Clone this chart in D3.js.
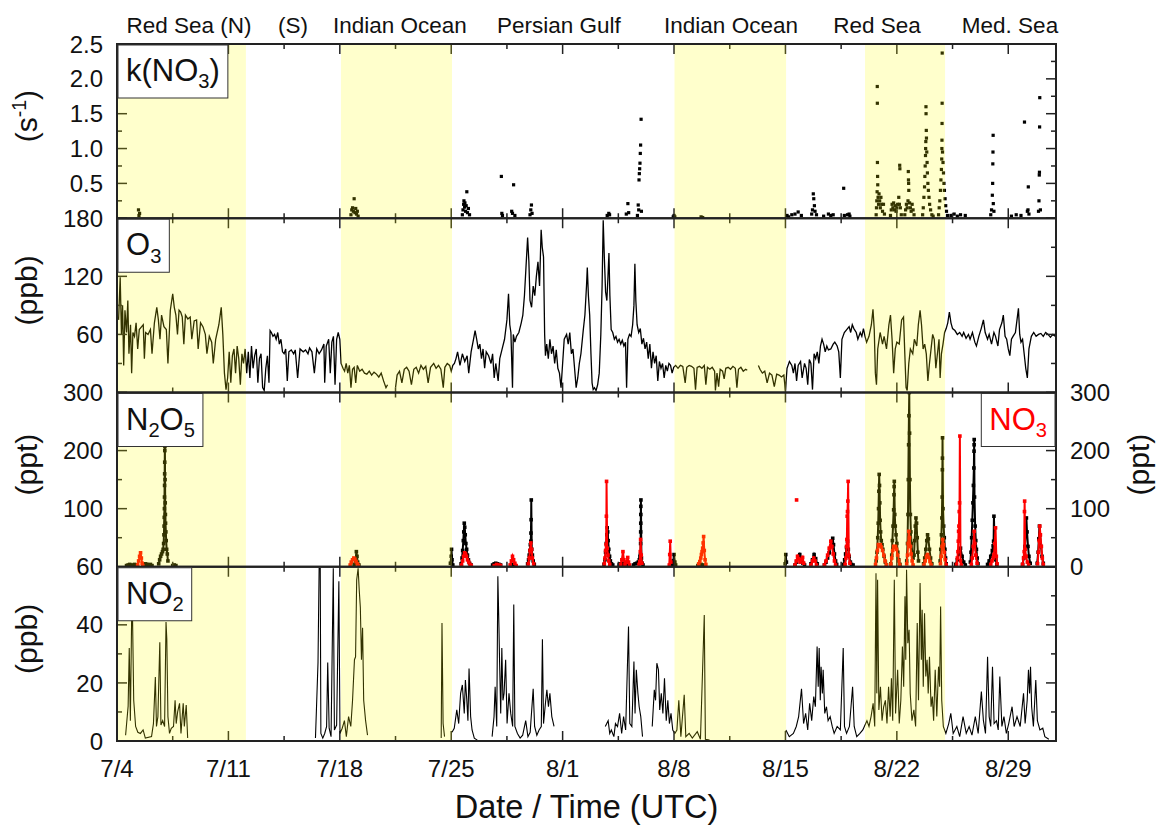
<!DOCTYPE html>
<html>
<head>
<meta charset="utf-8">
<script src="https://cdn.jsdelivr.net/npm/d3@7"></script>
<style>
  body { margin: 0; background: #fff; }
  svg { font-family: "Liberation Sans", Arial, sans-serif; }
</style>
</head>
<body>
<script>

// days since 2017-07-04 00:00 UTC
var shadeStart = [0, 14.07, 35.03, 47.0];
var shadeEnd = [8.1, 21.05, 42.04, 52.03];
var regionNames = ["Red Sea (N)", "(S)", "Indian Ocean", "Persian Gulf", "Indian Ocean", "Red Sea", "Med. Sea"];
var regionDay = [4.52, 11.06, 17.78, 27.77, 38.58, 47.75, 56.11];
var dateTickDays = [0, 7, 14, 21, 28, 35, 42, 49, 56];

var kTicks = [0.5, 1.0, 1.5, 2.0, 2.5];
var o3Ticks = [60, 120, 180];
var n2o5Ticks = [100, 200, 300];
var no3Ticks = [0, 100, 200, 300];
var no2Ticks = [0, 20, 40, 60];

// k(NO3), s-1
var kno3 = [
  [1.35,0.12],[1.38,0.04],[1.42,0.07],
  [14.7,0.05],[14.75,0.12],[14.8,0.15],[14.85,0.1],[14.9,0.28],[14.95,0.08],[15.0,0.14],[15.05,0.06],[15.1,0.1],[15.15,0.03],
  [21.7,0.05],[21.74,0.12],[21.78,0.2],[21.8,0.25],[21.84,0.16],[21.86,0.22],[21.9,0.1],[21.94,0.18],[21.98,0.38],[22.02,0.08],[22.08,0.14],[22.15,0.05],
  [24.15,0.6],[24.18,0.07],[24.22,0.04],
  [24.8,0.1],[24.85,0.07],[24.92,0.48],[25.0,0.04],
  [25.95,0.05],[26.0,0.12],[26.04,0.19],[26.08,0.07],
  [30.8,0.04],[30.9,0.07],[30.95,0.05],
  [32.0,0.06],[32.1,0.21],[32.15,0.08],
  [32.7,0.04],[32.75,0.19],[32.78,0.12],[32.8,0.55],[32.82,0.64],[32.84,0.71],[32.86,0.79],[32.88,0.93],[32.9,1.05],[32.93,1.42],[32.95,0.1],
  [34.95,0.02],[35.0,0.04],[35.05,0.02],[36.7,0.02],[36.8,0.01],
  [42.1,0.04],[42.2,0.02],[42.4,0.05],[42.6,0.06],[42.8,0.09],[43.0,0.04],
  [43.65,0.06],[43.7,0.12],[43.75,0.35],[43.78,0.28],[43.82,0.18],[43.86,0.1],[43.95,0.05],
  [44.4,0.03],[44.7,0.06],[44.85,0.04],[45.0,0.05],
  [45.66,0.43],[45.7,0.04],[45.9,0.05],[46.0,0.06],[46.05,0.03],
  [47.7,0.05],[47.72,0.15],[47.74,0.25],[47.76,0.38],[47.77,1.89],[47.775,1.65],[47.78,0.8],[47.79,0.6],[47.8,0.48],[47.82,0.3],[47.85,0.2],[47.88,0.35],[47.92,0.25],[47.96,0.15],[48.0,0.3],[48.05,0.2],[48.1,0.1],[48.16,0.2],[48.22,0.06],
  [48.6,0.04],[48.65,0.12],[48.7,0.2],[48.75,0.15],[48.8,0.22],[48.85,0.12],[48.9,0.18],[48.95,0.1],[49.0,0.15],[49.05,0.2],[49.12,0.3],[49.16,0.2],[49.18,0.76],[49.19,0.71],[49.22,0.15],[49.28,0.05],
  [49.5,0.05],[49.55,0.12],[49.6,0.2],[49.65,0.15],[49.7,0.25],[49.72,0.67],[49.73,0.55],[49.74,0.5],[49.75,0.4],[49.8,0.22],[49.85,0.15],[49.9,0.1],[49.96,0.2],[50.02,0.12],[50.08,0.05],
  [50.62,0.05],[50.66,0.15],[50.7,0.3],[50.74,0.45],[50.76,0.6],[50.78,0.75],[50.8,0.9],[50.81,1.0],[50.82,1.1],[50.83,1.6],[50.835,1.5],[50.85,1.26],[50.86,1.15],[50.88,0.95],[50.9,0.8],[50.92,0.65],[50.95,0.5],[50.98,0.4],[51.02,0.3],[51.06,0.2],[51.12,0.12],[51.2,0.05],[51.28,0.03],
  [51.62,0.05],[51.66,0.15],[51.7,0.25],[51.74,0.4],[51.77,0.55],[51.8,0.7],[51.82,0.85],[51.83,1.0],[51.835,1.12],[51.84,1.36],[51.845,1.65],[51.85,2.37],[51.87,0.95],[51.9,0.8],[51.93,0.65],[51.96,0.5],[51.99,0.4],[52.03,0.28],[52.07,0.18],[52.12,0.1],[52.18,0.04],
  [52.4,0.04],[52.6,0.06],[52.8,0.03],[53.0,0.05],[53.3,0.04],
  [54.9,0.05],[54.95,0.12],[55.0,0.33],[55.02,0.5],[55.03,0.78],[55.04,0.95],[55.05,1.19],[55.06,0.21],[55.1,0.1],
  [56.2,0.03],[56.5,0.05],[56.8,0.04],[57.02,1.38],
  [57.2,0.1],[57.24,0.12],[57.26,0.45],[57.3,0.06],
  [57.9,0.1],[57.93,0.25],[57.95,0.62],[57.96,0.66],[57.97,1.31],[57.98,1.73],[58.02,0.12]
];

// O3, ppb (null = no data)
var o3 = [
  [0.10,75],[0.20,119],[0.28,60],[0.35,90],[0.42,28],[0.50,85],[0.60,62],[0.68,95],[0.75,40],[0.85,70],[0.92,20],
  [1.00,62],[1.10,58],[1.20,72],[1.30,45],[1.40,65],[1.55,68],[1.65,70],[1.72,35],[1.80,62],[1.95,60],
  [2.10,65],[2.20,40],[2.35,72],[2.50,88],[2.60,75],[2.70,55],[2.80,80],[2.95,68],[3.10,65],[3.20,30],
  [3.35,85],[3.50,102],[3.60,88],[3.70,80],[3.80,60],[3.90,85],[4.00,83],[4.10,78],[4.20,50],[4.30,80],
  [4.45,76],[4.60,78],[4.70,55],[4.85,74],[5.00,75],[5.10,45],[5.25,72],[5.40,68],[5.55,60],[5.65,40],
  [5.80,58],[5.95,52],[6.05,30],[6.20,55],[6.40,70],[6.55,88],[6.65,60],[6.75,20],[6.85,3],[6.95,15],
  [7.05,42],[7.15,10],[7.25,38],[7.35,45],[7.45,20],[7.55,48],[7.65,35],[7.75,8],[7.85,40],[7.95,30],
  [8.05,45],[8.15,20],[8.25,42],[8.35,15],[8.45,48],[8.55,25],[8.65,38],[8.75,45],[8.85,10],[8.95,35],
  [9.05,40],[9.15,5],[9.25,2],[9.35,25],[9.45,38],[9.55,10],[9.62,64],[9.70,62],[9.80,58],[9.90,60],
  [10.00,55],[10.10,62],[10.20,50],[10.30,55],[10.40,42],[10.50,40],[10.60,45],[10.70,12],[10.80,42],[10.95,44],
  [11.10,40],[11.20,44],[11.35,15],[11.50,45],[11.70,42],[11.85,44],[12.00,40],[12.10,46],[12.25,42],[12.40,20],
  [12.55,45],[12.70,40],[12.85,44],[13.00,50],[13.05,10],[13.15,48],[13.30,55],[13.40,20],[13.50,52],[13.60,58],
  [13.70,8],[13.80,55],[13.90,62],[14.00,55],[14.08,30],[14.20,25],[14.30,22],[14.40,30],[14.50,20],[14.60,28],
  [14.70,5],[14.80,24],[14.90,26],[15.00,10],[15.10,28],[15.25,22],[15.40,24],[15.55,20],[15.70,19],[15.85,22],
  [16.00,18],[16.15,21],[16.30,19],[16.45,16],[16.60,20],[16.75,12],[16.90,5],[17.00,8],[17.25,null],
  [17.50,5],[17.60,18],[17.75,22],[17.90,10],[18.05,24],[18.20,26],[18.35,22],[18.50,8],[18.65,24],[18.80,26],
  [18.95,20],[19.10,28],[19.25,24],[19.40,27],[19.55,10],[19.70,26],[19.90,30],[20.05,25],[20.20,28],[20.35,24],
  [20.50,5],[20.60,26],[20.75,30],[20.90,28],[21.00,22],[21.10,28],[21.20,30],[21.30,35],[21.40,42],[21.55,28],
  [21.70,40],[21.85,32],[22.00,38],[22.10,20],[22.25,42],[22.40,55],[22.50,64],[22.60,55],[22.70,45],[22.80,50],
  [22.90,35],[23.00,45],[23.10,25],[23.20,42],[23.35,38],[23.50,30],[23.60,40],[23.70,15],[23.80,30],[23.95,12],
  [24.05,35],[24.20,45],[24.35,55],[24.50,75],[24.60,102],[24.68,70],[24.75,62],[24.85,5],[24.90,60],[25.00,52],
  [25.10,58],[25.25,62],[25.40,72],[25.50,80],[25.60,100],[25.70,130],[25.80,160],[25.88,135],[25.95,95],[26.05,88],
  [26.15,110],[26.25,100],[26.35,120],[26.45,135],[26.55,110],[26.65,168],[26.72,150],[26.80,140],[26.87,60],[26.92,38],
  [27.00,50],[27.10,35],[27.20,55],[27.30,40],[27.40,48],[27.50,30],[27.60,44],[27.70,25],[27.80,20],[27.90,5],
  [28.00,30],[28.10,55],[28.25,60],[28.35,50],[28.45,62],[28.55,40],[28.65,45],[28.75,25],[28.85,5],[28.95,15],
  [29.05,30],[29.15,40],[29.30,65],[29.40,80],[29.50,110],[29.55,129],[29.62,100],[29.70,80],[29.78,40],[29.85,10],
  [29.92,3],[30.00,5],[30.10,2],[30.20,8],[30.30,20],[30.40,60],[30.48,110],[30.55,178],[30.62,140],[30.70,104],
  [30.78,95],[30.85,120],[30.91,144],[30.97,100],[31.05,65],[31.15,62],[31.25,55],[31.35,58],[31.45,52],[31.55,55],
  [31.65,50],[31.75,54],[31.85,48],[31.95,52],[32.02,5],[32.10,55],[32.20,60],[32.30,58],[32.40,70],[32.48,90],
  [32.54,133],[32.60,95],[32.68,70],[32.78,62],[32.88,66],[32.98,50],[33.08,56],[33.18,45],[33.28,52],[33.38,35],
  [33.48,50],[33.58,25],[33.68,42],[33.78,30],[33.88,38],[33.98,12],[34.08,32],[34.18,25],[34.28,30],[34.38,15],
  [34.48,28],[34.58,22],[34.68,30],[34.78,28],[34.88,20],[34.98,26],[35.10,28],[35.25,25],[35.40,28],[35.55,27],
  [35.70,10],[35.80,26],[35.95,28],[36.10,27],[36.25,25],[36.35,3],[36.45,26],[36.60,27],[36.75,25],[36.90,28],
  [37.00,8],[37.10,26],[37.25,24],[37.40,26],[37.55,22],[37.60,2],[37.70,20],[37.80,6],[37.90,24],[38.05,22],
  [38.15,14],[38.25,25],[38.40,26],[38.55,24],[38.70,27],[38.85,25],[38.95,5],[39.05,24],[39.20,26],[39.35,22],
  [39.50,24],[39.60,23],[39.95,null],
  [40.30,28],[40.40,24],[40.55,20],[40.70,22],[40.85,10],[41.00,20],[41.15,18],[41.30,6],[41.45,19],[41.60,18],
  [41.75,16],[41.90,18],[42.00,2],[42.10,25],[42.25,32],[42.40,28],[42.50,20],[42.60,30],[42.70,12],[42.80,28],
  [42.95,32],[43.05,15],[43.20,30],[43.30,25],[43.40,8],[43.50,34],[43.60,30],[43.70,3],[43.80,40],[43.90,35],
  [44.00,42],[44.10,30],[44.20,48],[44.30,55],[44.40,50],[44.50,42],[44.60,48],[44.70,44],[44.85,45],[45.00,50],
  [45.10,52],[45.25,48],[45.35,42],[45.45,15],[45.55,55],[45.70,62],[45.85,65],[46.00,68],[46.10,62],[46.20,70],
  [46.30,66],[46.45,62],[46.55,55],[46.70,62],[46.80,58],[46.90,66],[47.00,58],[47.10,52],[47.25,58],[47.40,70],
  [47.50,86],[47.58,65],[47.65,20],[47.72,8],[47.80,45],[47.95,62],[48.10,50],[48.20,58],[48.35,45],[48.50,70],
  [48.60,80],[48.70,55],[48.80,20],[48.90,45],[49.00,52],[49.15,50],[49.30,75],[49.42,78],[49.50,40],[49.58,5],
  [49.65,2],[49.75,30],[49.85,45],[50.00,40],[50.10,55],[50.25,48],[50.35,70],[50.46,85],[50.55,70],[50.65,45],
  [50.75,50],[50.85,40],[50.95,12],[51.05,30],[51.15,45],[51.25,60],[51.35,55],[51.45,25],[51.55,40],[51.65,55],
  [51.72,15],[51.80,40],[51.90,50],[52.00,62],[52.10,66],[52.20,72],[52.30,83],[52.40,72],[52.50,66],[52.65,64],
  [52.80,60],[52.95,62],[53.10,58],[53.20,62],[53.35,56],[53.50,60],[53.60,55],[53.75,62],[53.90,52],[54.00,48],
  [54.15,58],[54.30,66],[54.44,75],[54.55,62],[54.70,55],[54.80,60],[54.95,50],[55.10,62],[55.20,58],[55.35,48],
  [55.45,65],[55.60,72],[55.69,80],[55.80,58],[55.90,55],[56.00,45],[56.10,38],[56.20,55],[56.30,58],[56.45,62],
  [56.55,75],[56.64,87],[56.72,60],[56.80,52],[56.90,55],[57.00,40],[57.10,25],[57.20,15],[57.30,45],[57.45,58],
  [57.60,62],[57.75,58],[57.90,60],[58.05,61],[58.20,58],[58.35,62],[58.50,60],[58.65,57],[58.80,60],[58.95,58]
];

// N2O5, ppt (one list per night)
var n2o5 = [
  [[0.6,2],[0.7,3],[0.8,4],[0.9,3],[1.0,2],[1.1,4],[1.2,3]],
  [[1.7,3],[1.8,5],[1.9,4],[2.0,3],[2.1,4],[2.2,2]],
  [[2.62,5],[2.68,12],[2.74,18],[2.8,22],[2.86,26],[2.9,30],[2.93,40],[2.95,55],[2.96,70],[2.97,85],[2.98,100],[2.985,120],[2.99,140],[2.995,160],[3.0,180],[3.005,200],[3.01,207],[3.02,150],[3.03,110],[3.04,90],[3.05,75],[3.07,60],[3.09,45],[3.12,30],[3.16,22],[3.2,10]],
  [[3.5,2],[3.6,3],[3.7,2]],
  [[14.9,4],[15.0,12],[15.04,26],[15.08,18],[15.12,8],[15.2,3]],
  [[20.95,6],[21.0,18],[21.02,30],[21.05,12],[21.1,3]],
  [[21.62,5],[21.68,15],[21.72,28],[21.76,45],[21.79,60],[21.82,75],[21.85,68],[21.88,55],[21.92,40],[21.97,30],[22.02,20],[22.08,12],[22.15,6],[22.25,3]],
  [[23.6,3],[23.7,5],[23.8,6],[23.9,5],[24.0,4],[24.1,3]],
  [[24.75,2],[24.85,4],[24.95,3]],
  [[25.8,5],[25.86,12],[25.9,20],[25.94,28],[25.97,38],[26.0,44],[26.01,58],[26.02,81],[26.03,115],[26.06,30],[26.1,20],[26.15,10],[26.22,4]],
  [[30.6,4],[30.66,12],[30.7,25],[30.74,40],[30.78,55],[30.8,67],[30.83,60],[30.86,45],[30.9,30],[30.95,18],[31.0,10],[31.07,5],[31.15,3]],
  [[31.55,3],[31.65,5],[31.75,4],[31.85,6],[31.95,3],[32.05,4]],
  [[32.45,3],[32.55,5],[32.65,6],[32.75,8],[32.82,12],[32.86,18],[32.89,21],[32.9,40],[32.905,60],[32.91,75],[32.912,90],[32.915,104],[32.92,115],[32.95,15],[33.0,6],[33.05,3]],
  [[34.9,4],[34.95,10],[35.0,21],[35.05,8],[35.1,3]],
  [[36.5,2],[36.6,3],[36.7,4],[36.8,3],[36.9,2]],
  [[41.98,5],[42.02,21],[42.06,8]],
  [[42.6,3],[42.7,8],[42.8,15],[42.9,21],[43.0,12],[43.1,6],[43.2,3]],
  [[43.6,5],[43.7,12],[43.8,21],[43.9,14],[44.0,5]],
  [[44.45,3],[44.55,8],[44.65,15],[44.75,24],[44.85,35],[44.92,44],[44.97,49],[45.02,38],[45.08,22],[45.15,10],[45.22,4]],
  [[45.65,4],[45.72,12],[45.78,22],[45.84,33],[45.9,44],[45.95,30],[46.0,18],[46.08,8],[46.15,4],[46.25,3]],
  [[47.7,10],[47.75,25],[47.8,50],[47.83,75],[47.85,100],[47.87,130],[47.89,159],[47.91,140],[47.93,110],[47.95,80],[47.98,60],[48.02,45],[48.07,38],[48.12,30],[48.2,18],[48.28,8],[48.35,3]],
  [[48.62,5],[48.68,20],[48.72,45],[48.76,70],[48.8,98],[48.82,124],[48.83,138],[48.84,147],[48.87,90],[48.9,70],[48.95,55],[49.0,40],[49.06,25],[49.12,12],[49.2,4]],
  [[49.62,10],[49.67,40],[49.7,90],[49.72,150],[49.74,210],[49.76,260],[49.78,300],[49.8,230],[49.82,150],[49.85,90],[49.88,60],[49.92,40],[49.97,25],[50.02,15]],
  [[50.08,20],[50.12,45],[50.16,70],[50.2,84],[50.24,75],[50.28,50],[50.32,25],[50.36,10]],
  [[50.68,5],[50.75,15],[50.82,30],[50.88,45],[50.93,55],[50.98,48],[51.05,30],[51.12,15],[51.2,5]],
  [[51.72,10],[51.76,30],[51.8,55],[51.83,84],[51.85,120],[51.86,167],[51.865,187],[51.87,222],[51.9,100],[51.94,70],[51.98,50],[52.02,30],[52.06,15],[52.1,5]],
  [[52.7,4],[52.8,12],[52.9,22],[53.0,32],[53.1,18],[53.2,8],[53.3,3]],
  [[53.62,8],[53.66,25],[53.7,50],[53.74,80],[53.78,110],[53.81,140],[53.84,170],[53.85,199],[53.855,210],[53.86,219],[53.88,120],[53.92,70],[53.96,45],[54.0,30],[54.05,15],[54.1,5]],
  [[54.7,4],[54.8,10],[54.9,18],[55.0,28],[55.05,36],[55.08,44],[55.1,87],[55.15,30],[55.22,12],[55.28,4]],
  [[56.9,4],[56.98,15],[57.05,35],[57.1,60],[57.14,84],[57.18,60],[57.24,35],[57.3,18],[57.38,6]],
  [[57.82,6],[57.88,25],[57.92,48],[57.96,70],[58.0,55],[58.06,35],[58.12,18],[58.2,6]]
];

// NO3, ppt (one list per night)
var no3 = [
  [[1.3,3],[1.36,10],[1.42,18],[1.48,24],[1.53,15],[1.58,6],[1.62,2]],
  [[14.65,3],[14.72,8],[14.8,12],[14.88,15],[14.95,13],[15.02,9],[15.1,5],[15.16,2]],
  [[21.65,3],[21.72,10],[21.78,18],[21.84,24],[21.9,22],[21.96,18],[22.02,12],[22.1,8],[22.18,4],[22.26,2]],
  [[23.7,2],[23.85,4],[24.0,3],[24.1,2]],
  [[24.7,3],[24.78,10],[24.85,18],[24.92,12],[25.0,6],[25.08,2]],
  [[25.84,5],[25.9,15],[25.95,28],[26.0,41],[26.05,30],[26.1,15],[26.18,5]],
  [[30.62,5],[30.66,15],[30.7,28],[30.73,38],[30.75,87],[30.76,147],[30.8,32],[30.85,20],[30.9,10],[30.96,4]],
  [[31.65,4],[31.72,12],[31.79,26],[31.85,12],[31.92,4],[32.0,8],[32.09,16],[32.14,8],[32.2,3]],
  [[32.8,4],[32.85,9],[32.88,26],[32.9,47],[32.94,20],[32.98,6]],
  [[34.7,3],[34.73,21],[34.76,44],[34.8,8]],
  [[36.55,5],[36.62,9],[36.68,15],[36.72,21],[36.76,26],[36.8,32],[36.83,41],[36.86,52],[36.9,28],[36.95,12],[37.0,4]],
  [[42.6,3],[42.68,10],[42.76,18],[42.84,14],[42.92,8],[43.0,12],[43.08,16],[43.15,6]],
  [[42.7,115]],
  [[43.6,3],[43.7,10],[43.78,15],[43.86,10],[43.95,3]],
  [[44.45,3],[44.55,10],[44.65,20],[44.75,32],[44.85,44],[44.92,35],[45.0,22],[45.08,10],[45.15,3]],
  [[45.75,4],[45.8,15],[45.84,35],[45.86,47],[45.88,87],[45.9,95],[45.92,113],[45.94,147],[45.98,20],[46.05,6]],
  [[47.66,4],[47.72,15],[47.78,28],[47.84,38],[47.9,36],[47.96,38],[48.02,34],[48.1,28],[48.18,20],[48.26,10],[48.34,3]],
  [[48.62,4],[48.68,15],[48.74,28],[48.8,35],[48.86,33],[48.92,35],[48.98,30],[49.05,20],[49.12,10],[49.18,3]],
  [[49.62,5],[49.67,20],[49.71,40],[49.75,61],[49.8,50],[49.85,35],[49.9,22],[49.96,10],[50.02,3]],
  [[50.7,3],[50.78,10],[50.86,18],[50.93,21],[51.0,16],[51.08,9],[51.15,3]],
  [[51.74,5],[51.79,18],[51.84,35],[51.88,47],[51.93,38],[51.98,25],[52.04,12],[52.1,3]],
  [[52.75,4],[52.8,15],[52.84,26],[52.86,44],[52.88,61],[52.9,70],[52.92,95],[52.94,110],[52.96,225],[53.0,10],[53.05,3]],
  [[53.68,4],[53.74,15],[53.8,35],[53.86,61],[53.9,40],[53.96,20],[54.04,6]],
  [[54.9,4],[54.98,10],[55.05,15],[55.1,21],[55.15,40],[55.2,67],[55.25,18],[55.3,5]],
  [[56.9,4],[56.96,15],[57.0,26],[57.02,95],[57.03,113],[57.06,30],[57.12,18],[57.2,8],[57.28,3]],
  [[57.84,5],[57.9,25],[57.94,45],[57.98,70],[58.02,55],[58.08,35],[58.14,15],[58.2,4]]
];

// NO2, ppb (null = no data)
var no2 = [
  [0.54,2],[0.70,12],[0.77,32],[0.84,7],[0.93,47],[0.98,41],[1.05,14],[1.17,5],[1.31,3],[1.47,2.6],[1.64,3.8],[1.78,1],
  [2.17,1.5],[2.29,6],[2.41,22],[2.48,5],[2.57,8.4],[2.69,34],[2.76,5.5],[2.87,7],[2.99,5],[3.08,41],[3.13,35],[3.20,8.4],
  [3.30,2.6],[3.41,4.4],[3.55,5],[3.65,14],[3.72,6],[3.81,10],[3.93,13],[4.02,2.6],[4.16,13],[4.23,5],[4.35,12.4],[4.44,1],
  [8,null],
  [12.47,1],[12.53,10.7],[12.63,27],[12.70,59.5],[12.77,59.5],[12.81,2.6],[12.93,1],[13.05,2.6],[13.17,5],[13.24,27],
  [13.33,4.4],[13.45,1.5],[13.59,59.5],[13.66,3.8],[13.80,5.5],[13.94,55],[14.01,2.6],[14.15,4.4],[14.29,7],[14.41,1.5],
  [14.55,8.4],[14.69,5],[14.80,14],[14.92,28],[14.99,29],[15.06,55.5],[15.15,59.5],[15.22,52],[15.29,46],[15.36,28],
  [15.43,39],[15.50,14],[15.62,7],[15.74,2],
  [18,null],
  [20.37,1],[20.42,40.6],[20.49,6],[20.58,1.5],
  [20.8,null],
  [21.05,3],[21.19,4.4],[21.35,10.7],[21.47,6],[21.59,16.4],[21.70,19.3],[21.82,9.5],[21.89,21],[21.98,14],[22.05,7],
  [22.12,25],[22.22,8.4],[22.31,3.8],[22.45,1],[22.64,0.3],
  [23.1,null],
  [23.57,1.5],[23.69,8.4],[23.76,18.7],[23.86,5],[23.93,56.7],[24.0,39],[24.04,27],[24.11,9.5],[24.18,32],[24.25,14],
  [24.32,16.4],[24.42,28],[24.51,6],[24.63,16.4],[24.74,9.5],[24.86,5],[24.93,47],[25.0,5],[25.16,2.6],[25.33,1],
  [25.49,2],[25.68,7],[25.82,1.5],[25.96,3],[26.15,18],[26.24,5],[26.38,2],[26.52,3.8],[26.66,5],[26.73,35],
  [26.80,6],[26.92,13],[27.01,17.6],[27.11,11.8],[27.20,16.4],[27.32,8.4],[27.46,5],
  [27.7,null],
  [30.68,5],[30.86,7],[30.96,2.6],[31.06,3.8],[31.22,1.5],[31.32,6],[31.45,5],[31.58,9.5],[31.71,2.6],[31.83,8.4],
  [31.96,3.8],[32.14,39.4],[32.22,6],[32.35,5],[32.48,27.4],[32.55,9.5],[32.63,24.5],[32.73,16.4],[32.81,11.8],[32.91,8.4],
  [33.02,1.5],
  [33.3,null],
  [33.63,5],[33.76,17.6],[33.84,14],[33.92,26.8],[34.02,24.5],[34.10,10.7],[34.20,16.4],[34.30,9.5],[34.40,21.6],[34.51,7],
  [34.61,14],[34.71,6],[34.81,9.5],[34.92,3.8],[35.05,2.6],[35.18,3.8],[35.30,14],[35.43,1.5],[35.64,15.9],[35.74,1.5],
  [35.95,2.6],[36.15,1],[36.46,3.2],[36.66,0.6],[36.90,43.4],[36.97,0.6],[37.23,0.3],
  [38,null],
  [42.03,3.8],[42.24,1.5],[42.50,2.6],[42.68,5],[42.83,8.4],[43.01,18],[43.14,6],[43.27,9.5],[43.40,3.8],[43.52,13],
  [43.65,7],[43.78,15.3],[43.88,11.8],[43.99,32.5],[44.06,18.7],[44.12,32],[44.19,14],[44.24,25.6],[44.32,16.4],[44.37,24.5],
  [44.47,9.5],[44.58,11.8],[44.68,7],[44.81,8.4],[44.94,5],[45.06,2.6],[45.25,5],[45.45,3.8],[45.63,32],[45.71,5],
  [45.84,2.6],[46.02,5],[46.22,18.7],[46.32,5],[46.48,1.5],[46.68,2.6],[46.86,3.8],[47.12,7],[47.25,5],[47.38,8.4],
  [47.51,13],[47.61,5],[47.69,57.8],[47.74,16.4],[47.79,55.5],[47.87,10.7],[47.97,18.7],[48.07,7],[48.17,11.8],[48.28,14],
  [48.38,6],[48.48,18.7],[48.58,8.4],[48.66,21.6],[48.74,7],[48.84,55.5],[48.92,9.5],[49.05,24.5],[49.15,6],[49.25,14],
  [49.35,32.5],[49.43,18.7],[49.51,49.8],[49.56,28],[49.61,59],[49.69,33.7],[49.77,38.3],[49.84,16.4],[49.95,7],[50.07,10.7],
  [50.18,5],[50.28,40.6],[50.36,14],[50.46,54.4],[50.54,28],[50.59,45.2],[50.66,18.7],[50.74,44],[50.82,22.2],[50.90,28],
  [50.97,16.4],[51.05,29],[51.15,11.8],[51.23,15.3],[51.31,7],[51.41,24.5],[51.51,8.4],[51.62,25.6],[51.69,18.7],[51.75,46.3],
  [51.82,14],[51.92,5],[52.08,2.6],[52.26,6],[52.39,9.5],[52.54,2.6],[52.77,5],[52.95,1.5],[53.16,8.4],[53.36,2.6],
  [53.54,5],[53.72,2],[53.93,8.4],[54.11,2.6],[54.31,17],[54.44,7],[54.57,2.6],[54.70,29],[54.80,8.4],[54.90,5],
  [55.01,25.6],[55.11,6],[55.26,7],[55.37,3.8],[55.47,22.2],[55.60,5],[55.73,8.4],[55.88,2.6],[56.03,6],[56.24,11.8],
  [56.37,5],[56.55,8.4],[56.75,5],[56.96,16.4],[57.06,6],[57.19,14],[57.27,24.5],[57.34,16.4],[57.40,25.6],[57.47,11.8],
  [57.58,5],[57.73,21],[57.83,7],[57.99,3.8],[58.17,4.4],[58.30,1.5],[58.55,0.6]
];

var w = 1158, h = 829;
var plotL = 117, plotR = 1056, plotT = 44, plotB = 741;
var ph = (plotB - plotT) / 4;
var t0 = Date.UTC(2017, 6, 4);
function when(d) { return new Date(t0 + d * 864e5); }

var svg = d3.select("body").append("svg").attr("width", w).attr("height", h);

var x = d3.scaleUtc().domain([when(0), when(59)]).range([plotL, plotR]);
var dateFmt = d3.utcFormat("%-m/%-d");

var panels = [
  { dom: [0, 2.5], major: 0.5, ticks: kTicks, fmt: d3.format(".1f"),
    title: [["(s"], ["-1", "sup"], [")"]], tag: [["k(NO"], ["3", "sub"], [")"]] },
  { dom: [0, 180], major: 60, ticks: o3Ticks, fmt: d3.format("d"),
    title: [["(ppb)"]], tag: [["O"], ["3", "sub"]] },
  { dom: [0, 300], major: 100, ticks: n2o5Ticks, fmt: d3.format("d"),
    title: [["(ppt)"]], tag: [["N"], ["2", "sub"], ["O"], ["5", "sub"]] },
  { dom: [0, 60], major: 20, ticks: no2Ticks, fmt: d3.format("d"),
    title: [["(ppb)"]], tag: [["NO"], ["2", "sub"]] }
];
panels.forEach(function (p, i) {
  p.top = plotT + i * ph;
  p.bot = p.top + ph;
  p.y = d3.scaleLinear().domain(p.dom).range([p.bot, p.top]);
});

var defs = svg.append("defs");
panels.forEach(function (p, i) {
  defs.append("clipPath").attr("id", "clip" + i)
    .append("rect").attr("x", plotL).attr("y", p.top).attr("width", plotR - plotL).attr("height", ph);
});

function lineFor(p) {
  return d3.line()
    .defined(function (d) { return d[1] != null; })
    .x(function (d) { return x(when(d[0])); })
    .y(function (d) { return p.y(d[1]); });
}

function squares(g, data, p, size, color) {
  g.append("g").selectAll("rect").data(data).enter().append("rect")
    .attr("x", function (d) { return x(when(d[0])) - size / 2; })
    .attr("y", function (d) { return p.y(d[1]) - size / 2; })
    .attr("width", size).attr("height", size)
    .attr("fill", color);
}

// k(NO3)
var g0 = svg.append("g").attr("clip-path", "url(#clip0)");
squares(g0, kno3, panels[0], 3.2, "#000");

// O3
var g1 = svg.append("g").attr("clip-path", "url(#clip1)");
g1.append("path").datum(o3).attr("d", lineFor(panels[1]))
  .attr("fill", "none").attr("stroke", "#000").attr("stroke-width", 1.3);

// N2O5 and NO3
var g2 = svg.append("g").attr("clip-path", "url(#clip2)");
function nights(data, color) {
  data.forEach(function (night) {
    g2.append("path").datum(night).attr("d", lineFor(panels[2]))
      .attr("fill", "none").attr("stroke", color).attr("stroke-width", 2);
    squares(g2, night, panels[2], 3.6, color);
  });
}
nights(n2o5, "#000");
nights(no3, "#ff0000");

// NO2
var g3 = svg.append("g").attr("clip-path", "url(#clip3)");
g3.append("path").datum(no2).attr("d", lineFor(panels[3]))
  .attr("fill", "none").attr("stroke", "#000").attr("stroke-width", 1.1);

// ticks (inward on all four sides of each panel)
var ticksG = svg.append("g").attr("stroke", "#222").attr("stroke-width", 1.5);
var minorDays = dateTickDays.map(function (d) { return d + 3.5; }).filter(function (d) { return d < 59; });
panels.forEach(function (p) {
  [[dateTickDays, 10], [minorDays, 5]].forEach(function (set) {
    set[0].forEach(function (d) {
      var xx = x(when(d));
      ticksG.append("line").attr("x1", xx).attr("x2", xx).attr("y1", p.top).attr("y2", p.top + set[1]);
      ticksG.append("line").attr("x1", xx).attr("x2", xx).attr("y1", p.bot).attr("y2", p.bot - set[1]);
    });
  });
  var yt = d3.range(p.dom[0], p.dom[1] + 1e-9, p.major / 2);
  yt.forEach(function (v, j) {
    var len = j % 2 === 0 ? 10 : 5;
    var yy = p.y(v);
    ticksG.append("line").attr("x1", plotL).attr("x2", plotL + len).attr("y1", yy).attr("y2", yy);
    ticksG.append("line").attr("x1", plotR).attr("x2", plotR - len).attr("y1", yy).attr("y2", yy);
  });
});

// campaign region shading
svg.append("g").selectAll("rect").data(shadeStart).enter().append("rect")
  .attr("x", function (d) { return x(when(d)); })
  .attr("width", function (d, i) { return x(when(shadeEnd[i])) - x(when(d)); })
  .attr("y", plotT).attr("height", plotB - plotT)
  .attr("fill", "#ffff00").attr("fill-opacity", 0.2);

// frames
panels.forEach(function (p) {
  svg.append("rect").attr("x", plotL).attr("y", p.top).attr("width", plotR - plotL).attr("height", ph)
    .attr("fill", "none").attr("stroke", "#222").attr("stroke-width", 2);
});

// text helper with sub/superscripts
function rich(text, parts, size) {
  parts.forEach(function (pt, i) {
    var s = text.append("tspan").text(pt[0]);
    if (pt[1] === "sub") {
      s.attr("font-size", size * 0.65).attr("dy", size * 0.24);
    } else if (pt[1] === "sup") {
      s.attr("font-size", size * 0.65).attr("dy", -size * 0.38);
    } else if (i > 0) {
      var prev = parts[i - 1][1];
      if (prev === "sub") s.attr("dy", -size * 0.24);
      if (prev === "sup") s.attr("dy", size * 0.38);
    }
  });
  return text;
}

// y tick labels
panels.forEach(function (p, i) {
  svg.append("g").selectAll("text").data(p.ticks).enter().append("text")
    .attr("x", 103).attr("y", function (v) { return p.y(v); })
    .attr("dy", "0.36em").attr("text-anchor", "end")
    .attr("font-size", 24).attr("fill", "#111")
    .text(function (v) { return p.fmt(v); });

  var cy = (p.top + p.bot) / 2 - 15;
  rich(svg.append("text")
    .attr("transform", "translate(37," + cy + ") rotate(-90)")
    .attr("text-anchor", "middle").attr("font-size", 30).attr("fill", "#111"), p.title, 30);
});

// right axis for NO3
var pN = panels[2];
svg.append("g").selectAll("text").data(no3Ticks).enter().append("text")
  .attr("x", 1070).attr("y", function (v) { return pN.y(v); })
  .attr("dy", "0.36em").attr("font-size", 24).attr("fill", "#111")
  .text(function (v) { return v; });
svg.append("text")
  .attr("transform", "translate(1149," + ((pN.top + pN.bot) / 2 - 15) + ") rotate(-90)")
  .attr("text-anchor", "middle").attr("font-size", 30).attr("fill", "#111")
  .text("(ppt)");

// x tick labels
svg.append("g").selectAll("text").data(dateTickDays).enter().append("text")
  .attr("x", function (d) { return x(when(d)); }).attr("y", 777)
  .attr("text-anchor", "middle").attr("font-size", 24).attr("fill", "#111")
  .text(function (d) { return dateFmt(when(d)); });

svg.append("text").attr("x", (plotL + plotR) / 2).attr("y", 818)
  .attr("text-anchor", "middle").attr("font-size", 32.5).attr("fill", "#111")
  .text("Date / Time (UTC)");

// region names
svg.append("g").selectAll("text").data(regionNames).enter().append("text")
  .attr("x", function (d, i) { return x(when(regionDay[i])); }).attr("y", 33)
  .attr("text-anchor", "middle").attr("font-size", 22.5).attr("fill", "#111")
  .text(function (d) { return d; });

// panel tags in boxes
function tag(parts, x0, y0, anchorRight, color) {
  var g = svg.append("g");
  var box = g.append("rect");
  var t = rich(g.append("text").attr("font-size", 31).attr("fill", color), parts, 31);
  var bb = t.node().getBBox();
  var bw = bb.width + 16, bh = 53;
  var bx = anchorRight ? x0 - bw : x0;
  t.attr("x", bx + 8).attr("y", y0 + 36);
  box.attr("x", bx).attr("y", y0).attr("width", bw).attr("height", bh)
    .attr("fill", "#fff").attr("stroke", "#333").attr("stroke-width", 1);
}
panels.forEach(function (p) { tag(p.tag, plotL + 1, p.top + 1, false, "#111"); });
tag([["NO"], ["3", "sub"]], plotR - 1, pN.top + 1, true, "#ff0000");

</script>
</body>
</html>
